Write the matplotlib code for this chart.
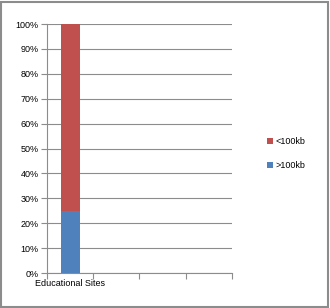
import matplotlib
matplotlib.use('Agg')
import matplotlib.pyplot as plt
from matplotlib.patches import Rectangle
from matplotlib.ticker import PercentFormatter

# data: share of pages by size, one category shown (slots for 4)
categories = ["Educational Sites", "", "", ""]
over_100kb = [25, 0, 0, 0]
under_100kb = [75, 0, 0, 0]

plt.rcParams.update({
    "font.family": ["Liberation Sans", "DejaVu Sans"],
    "font.size": 6.5,
})

fig = plt.figure(figsize=(3.3, 3.08), dpi=100)
ax = fig.add_axes([0.1424, 0.1136, 0.5606, 0.8084])

x = list(range(len(categories)))
w = 0.41
ax.bar(x, over_100kb, width=w, color="#4F81BD", label=">100kb", zorder=3)
ax.bar(x, under_100kb, width=w, bottom=over_100kb, color="#C0504D",
       label="<100kb", zorder=3)

ax.set_xlim(-0.5, len(categories) - 0.5)
ax.set_ylim(0, 100)
ax.set_yticks(range(0, 101, 10))
ax.yaxis.set_major_formatter(PercentFormatter(decimals=0))
ax.grid(axis="y", color="#8c8c8c", linewidth=0.8, zorder=0)

# category labels sit under each slot, ticks at the slot boundaries
ax.set_xticks([i - 0.5 for i in range(len(categories) + 1)])
ax.set_xticklabels([])
ax.set_xticks(x, minor=True)
ax.set_xticklabels(categories, minor=True)
ax.tick_params(axis="x", which="minor", length=0, pad=4)
ax.tick_params(axis="x", which="major", length=4, color="#8c8c8c", direction="out")
ax.tick_params(axis="y", length=4, color="#8c8c8c", direction="out", pad=2)

for side in ["top", "right"]:
    ax.spines[side].set_visible(False)
for side in ["left", "bottom"]:
    ax.spines[side].set_color("#8c8c8c")
    ax.spines[side].set_linewidth(0.8)

handles, labels = ax.get_legend_handles_labels()
ax.legend(handles[::-1], labels[::-1], loc="center left",
          bbox_to_anchor=(1.145, 0.48), frameon=False, handlelength=0.7,
          handleheight=0.7, handletextpad=0.2, labelspacing=1.7)

# outer chart border
fig.patches.append(Rectangle((0.003, 0.003), 0.991, 0.991, transform=fig.transFigure,
                             fill=False, edgecolor="#8c8c8c", linewidth=1.5))

fig.savefig("out.png", dpi=100)
